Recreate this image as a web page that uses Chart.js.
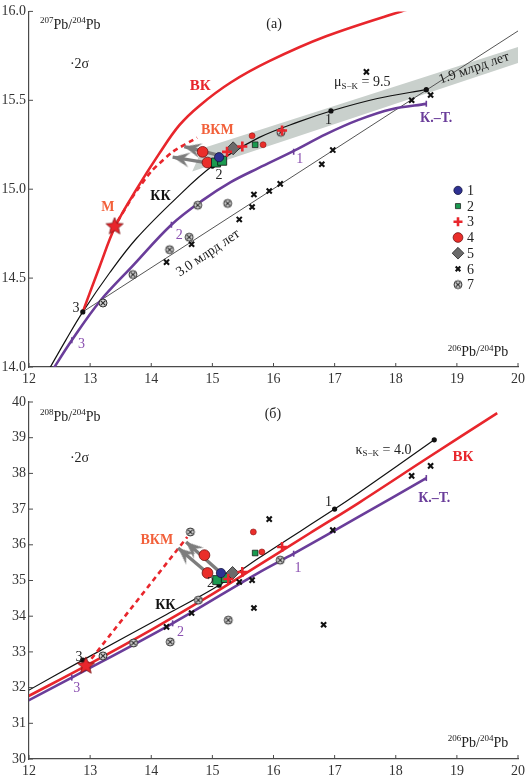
<!DOCTYPE html>
<html>
<head>
<meta charset="utf-8">
<script src="https://cdn.jsdelivr.net/npm/chart.js@4.4.0/dist/chart.umd.min.js"></script>
<style>
  html, body { margin: 0; padding: 0; background: #fff; }
  #wrap { position: relative; width: 529px; height: 781px; }
  .panel { position: absolute; left: 0; width: 529px; }
</style>
</head>
<body>
<div id="wrap">
  <div class="panel" style="top:0;height:390px"><canvas id="chartA"></canvas></div>
  <div class="panel" style="top:390px;height:391px"><canvas id="chartB"></canvas></div>
</div>
<script>
const FONT = '"Liberation Serif", "DejaVu Serif", serif';
const RED = '#e8262c', ORANGE = '#f2603a', PURPLE = '#6a3d9a', PURPLE_L = '#8a4fb0', GREY = '#7d7d7d';

const xTicks = [12, 13, 14, 15, 16, 17, 18, 19, 20];
const yTicksA = [14.0, 14.5, 15.0, 15.5, 16.0];
const yTicksB = [30, 31, 32, 33, 34, 35, 36, 37, 38, 39, 40];
const groupNames = ['1', '2', '3', '4', '5', '6', '7'];

// ---- panel (а): 207Pb/204Pb vs 206Pb/204Pb ----
const vkA = [[12.88, 14.31], [13.15, 14.56], [13.41, 14.79], [13.76, 15.0], [14.13, 15.2], [14.46, 15.36],
  [14.79, 15.47], [15.3, 15.6], [15.93, 15.72], [16.86, 15.86], [18.09, 16.0], [18.5, 16.04]];
const vkmA = [[13.45, 14.82], [13.7, 14.96], [14.0, 15.1], [14.35, 15.21], [14.75, 15.29]];
const kkA = [[12.3, 13.97], [12.6, 14.15], [12.88, 14.31], [13.32, 14.53], [13.75, 14.72], [14.41, 14.95],
  [15.0, 15.13], [15.76, 15.29], [16.42, 15.38], [16.94, 15.44], [17.7, 15.51], [18.5, 15.56]];
const ktA = [[12.38, 13.98], [12.7, 14.15], [13.16, 14.37], [13.7, 14.57], [14.33, 14.8], [14.85, 14.94],
  [15.3, 15.04], [15.76, 15.12], [16.3, 15.21], [16.86, 15.31], [17.39, 15.39], [17.93, 15.45], [18.5, 15.48]];
const iso30A = [[12.88, 14.31], [20.0, 15.89]];
const band19A = [[14.67, 15.1], [20.0, 15.71], [20.0, 15.8], [14.84, 15.23]];
const kkTicksA = [[12.88, 14.31], [15.0, 15.13], [16.94, 15.44], [18.5, 15.56]];
const ktTicksA = [[12.7, 14.15], [14.33, 14.8], [16.33, 15.21], [18.5, 15.48]];
const starA = [[13.4, 14.79]];
const g1A = [[15.11, 15.18]];
const g2A = [[15.06, 15.15], [15.16, 15.16]];
const g2smallA = [[15.7, 15.25]];
const g3A = [[15.24, 15.21], [15.49, 15.24], [16.14, 15.33]];
const g4A = [[14.84, 15.21], [14.92, 15.15]];
const g4smallA = [[15.65, 15.3], [15.83, 15.25]];
const g5A = [[15.34, 15.23]];
const g6A = [[14.25, 14.59], [14.66, 14.69], [15.44, 14.83], [15.65, 14.9], [15.68, 14.97], [15.93, 14.99],
  [16.11, 15.03], [16.79, 15.14], [16.97, 15.22], [17.52, 15.66], [18.26, 15.5], [18.57, 15.53]];
const g7A = [[13.21, 14.36], [13.7, 14.52], [14.3, 14.66], [14.62, 14.73], [14.76, 14.91], [15.25, 14.92], [16.12, 15.32]];
const arrowFromA = [[15.11, 15.19], [15.06, 15.14]];
const arrowToA = [[14.54, 15.24], [14.35, 15.18]];

// ---- panel (б): 208Pb/204Pb vs 206Pb/204Pb ----
const vkB = [[11.9, 31.68], [12.0, 31.77], [12.93, 32.61], [14.0, 33.62], [15.0, 34.62], [15.76, 35.43],
  [16.6, 36.33], [17.39, 37.17], [18.5, 38.41], [19.66, 39.69]];
const vkmB = [[12.93, 32.61], [14.59, 36.22]];
const kkB = [[11.9, 31.83], [12.0, 31.93], [12.88, 32.77], [14.25, 34.05], [15.11, 34.87], [15.76, 35.63],
  [17.0, 37.0], [17.39, 37.45], [18.63, 38.94]];
const ktB = [[11.9, 31.56], [12.0, 31.65], [12.7, 32.28], [14.35, 33.8], [15.76, 35.22], [16.33, 35.75],
  [17.39, 36.78], [18.5, 37.87]];
const kkTicksB = [[12.88, 32.77], [15.11, 34.87], [17.0, 37.0], [18.63, 38.94]];
const ktTicksB = [[12.7, 32.28], [14.35, 33.8], [16.33, 35.75], [18.5, 37.87]];
const starB = [[12.93, 32.61]];
const g1B = [[15.14, 35.21]];
const g2B = [[15.08, 35.01], [15.22, 35.07]];
const g2smallB = [[15.7, 35.77]];
const g3B = [[15.26, 35.04], [15.49, 35.24], [16.14, 35.94]];
const g4B = [[14.87, 35.71], [14.92, 35.21]];
const g4smallB = [[15.67, 36.36], [15.81, 35.8]];
const g5B = [[15.33, 35.21]];
const g6B = [[14.25, 33.7], [14.66, 34.09], [15.44, 34.96], [15.65, 35.01], [15.68, 34.23], [15.93, 36.72],
  [16.82, 33.76], [16.97, 36.41], [18.26, 37.93], [18.57, 38.21]];
const g7B = [[13.21, 32.89], [13.71, 33.25], [14.31, 33.28], [14.64, 36.36], [14.77, 34.45], [15.26, 33.89], [16.11, 35.57]];
const arrowFromB = [[15.14, 35.21], [14.92, 35.21]];
const arrowToB = [[14.57, 36.08], [14.44, 35.91]];

// text labels, placed in data units
const notesA = [
  { x: 14.80, y: 15.58, parts: [{ t: 'ВК' }], color: RED, bold: true, size: 15 },
  { x: 15.08, y: 15.33, parts: [{ t: 'ВКМ' }], color: ORANGE, bold: true },
  { x: 13.29, y: 14.90, parts: [{ t: 'М' }], color: ORANGE, bold: true },
  { x: 14.15, y: 14.96, parts: [{ t: 'КК' }], color: '#111', bold: true },
  { x: 18.66, y: 15.40, parts: [{ t: 'К.–Т.' }], color: PURPLE, bold: true },
  { x: 16.99, y: 15.60, align: 'left', parts: [{ t: 'μ' }, { t: 'S−K', sub: true }, { t: ' = 9.5' }] },
  { x: 19.28, y: 15.68, rot: -19, parts: [{ t: '1.9 млрд лет' }] },
  { x: 14.93, y: 14.64, rot: -34, parts: [{ t: '3.0 млрд лет' }] },
  { x: 16.90, y: 15.39, parts: [{ t: '1' }] },
  { x: 15.11, y: 15.08, parts: [{ t: '2' }] },
  { x: 12.77, y: 14.33, parts: [{ t: '3' }] },
  { x: 12.86, y: 14.13, parts: [{ t: '3' }], color: PURPLE_L },
  { x: 14.46, y: 14.74, parts: [{ t: '2' }], color: PURPLE_L },
  { x: 16.43, y: 15.17, parts: [{ t: '1' }], color: PURPLE_L },
  { x: 16.01, y: 15.93, parts: [{ t: '(а)' }] },
  { x: 12.18, y: 15.92, align: 'left', parts: [{ t: '207', sup: true }, { t: 'Pb/' }, { t: '204', sup: true }, { t: 'Pb' }] },
  { x: 12.67, y: 15.70, align: 'left', parts: [{ t: '·2σ' }] },
  { x: 19.84, y: 14.08, align: 'right', parts: [{ t: '206', sup: true }, { t: 'Pb/' }, { t: '204', sup: true }, { t: 'Pb' }] }
];
const notesB = [
  { x: 14.09, y: 36.13, parts: [{ t: 'ВКМ' }], color: ORANGE, bold: true },
  { x: 14.23, y: 34.31, parts: [{ t: 'КК' }], color: '#111', bold: true },
  { x: 19.10, y: 38.46, parts: [{ t: 'ВК' }], color: RED, bold: true, size: 15 },
  { x: 18.63, y: 37.31, parts: [{ t: 'К.–Т.' }], color: PURPLE, bold: true },
  { x: 17.34, y: 38.66, align: 'left', parts: [{ t: 'κ' }, { t: 'S−K', sub: true }, { t: ' = 4.0' }] },
  { x: 16.90, y: 37.20, parts: [{ t: '1' }] },
  { x: 16.40, y: 35.35, parts: [{ t: '1' }], color: PURPLE_L },
  { x: 14.48, y: 33.56, parts: [{ t: '2' }], color: PURPLE_L },
  { x: 12.78, y: 31.99, parts: [{ t: '3' }], color: PURPLE_L },
  { x: 12.82, y: 32.86, parts: [{ t: '3' }] },
  { x: 14.97, y: 34.93, parts: [{ t: '2' }] },
  { x: 15.99, y: 39.66, parts: [{ t: '(б)' }] },
  { x: 12.18, y: 39.58, align: 'left', parts: [{ t: '208', sup: true }, { t: 'Pb/' }, { t: '204', sup: true }, { t: 'Pb' }] },
  { x: 12.67, y: 38.43, align: 'left', parts: [{ t: '·2σ' }] },
  { x: 19.84, y: 30.45, align: 'right', parts: [{ t: '206', sup: true }, { t: 'Pb/' }, { t: '204', sup: true }, { t: 'Pb' }] }
];

const pts = arr => arr.map(([x, y]) => ({ x, y }));

// custom marker images
function makeStar(r) {
  const s = 2 * r + 4, c = s / 2, cv = document.createElement('canvas');
  cv.width = s; cv.height = s;
  const g = cv.getContext('2d');
  g.beginPath();
  for (let i = 0; i < 10; i++) {
    const rr = i % 2 ? r * 0.45 : r, a = -Math.PI / 2 + i * Math.PI / 5;
    g.lineTo(c + rr * Math.cos(a), c + rr * Math.sin(a));
  }
  g.closePath();
  g.fillStyle = RED; g.fill();
  g.strokeStyle = '#7a1414'; g.lineWidth = 0.8; g.stroke();
  return cv;
}
function makeCircCross(r) {
  const s = 2 * r + 4, c = s / 2, cv = document.createElement('canvas');
  cv.width = s; cv.height = s;
  const g = cv.getContext('2d');
  g.beginPath(); g.arc(c, c, r, 0, Math.PI * 2);
  g.fillStyle = '#d4d4d4'; g.fill();
  g.strokeStyle = '#333'; g.lineWidth = 1; g.stroke();
  const d = r * 0.6;
  g.beginPath();
  g.moveTo(c - d, c - d); g.lineTo(c + d, c + d);
  g.moveTo(c + d, c - d); g.lineTo(c - d, c + d);
  g.lineWidth = 1.2; g.stroke();
  return cv;
}
function makeArrowHead(len, wid) {
  const s = 2 * len + 4, c = s / 2, cv = document.createElement('canvas');
  cv.width = s; cv.height = s;
  const g = cv.getContext('2d');
  g.beginPath();
  g.moveTo(c, c);
  g.lineTo(c + wid / 2, c + len);
  g.lineTo(c, c + len * 0.62);
  g.lineTo(c - wid / 2, c + len);
  g.closePath();
  g.fillStyle = GREY; g.fill();
  return cv;
}
const starImg = makeStar(9);
const circCrossImg = makeCircCross(4);
const arrowImg = makeArrowHead(17, 15);

const st1 = { pointStyle: 'circle', radius: 4.6, bg: '#2e3192', border: '#15153f', bw: 0.8 };
const st2 = { pointStyle: 'rect', radius: 6.4, bg: '#1a9a50', border: '#111', bw: 0.8 };
const st2s = { pointStyle: 'rect', radius: 4, bg: '#1a9a50', border: '#111', bw: 0.7 };
const st3 = { pointStyle: 'cross', radius: 5, bg: RED, border: RED, bw: 2.6 };
const st4 = { pointStyle: 'circle', radius: 5.4, bg: '#ea2e2a', border: '#6e1111', bw: 0.8 };
const st4s = { pointStyle: 'circle', radius: 3, bg: '#ea2e2a', border: '#8a1a1a', bw: 0.6 };
const st5 = { pointStyle: 'rectRot', radius: 6.5, bg: '#6b6b6b', border: '#222', bw: 0.8 };
const st6 = { pointStyle: 'crossRot', radius: 3.6, bg: '#111', border: '#111', bw: 2.1 };
const st7 = { pointStyle: circCrossImg, radius: 4, bg: '#d4d4d4', border: '#333', bw: 1 };
const legendStyles = [st1, st2s, st3, st4, st5, st6, st7];

function markers(data, st, order) {
  return {
    data: pts(data), showLine: false, order,
    pointStyle: st.pointStyle, pointRadius: st.radius,
    pointBackgroundColor: st.bg, pointBorderColor: st.border, pointBorderWidth: st.bw
  };
}
function curve(data, color, width, order, extra) {
  return Object.assign({
    data: pts(data), showLine: true, order, borderColor: color, borderWidth: width,
    pointRadius: 0, tension: 0.35, fill: false
  }, extra || {});
}
function curveTicks(data, color, style) {
  return {
    data: pts(data), showLine: false, order: 3,
    pointStyle: style, pointRadius: style === 'line' ? 3 : 1.8, rotation: 90,
    pointBackgroundColor: color, pointBorderColor: color, pointBorderWidth: 1.6
  };
}
function arrows(from, to) {
  const shafts = from.map((f, i) => curve([f, to[i]], GREY, 3.4, 6, { tension: 0 }));
  const heads = {
    data: pts(to), showLine: false, order: 5,
    pointStyle: arrowImg,
    rotation: ctx => {
      if (ctx.dataIndex === undefined) return 0;
      const sx = ctx.chart.scales.x, sy = ctx.chart.scales.y;
      const f = from[ctx.dataIndex], t = to[ctx.dataIndex];
      const dx = sx.getPixelForValue(t[0]) - sx.getPixelForValue(f[0]);
      const dy = sy.getPixelForValue(t[1]) - sy.getPixelForValue(f[1]);
      return Math.atan2(dx, -dy) * 180 / Math.PI;
    }
  };
  return shafts.concat([heads]);
}

function drawRich(ctx, item, px, py) {
  const size = item.size || 14;
  const weight = item.bold ? 'bold ' : '';
  const fontFor = p => weight + ((p.sup || p.sub) ? Math.round(size * 0.66) : size) + 'px ' + FONT;
  let total = 0;
  item.parts.forEach(p => { ctx.font = fontFor(p); total += ctx.measureText(p.t).width; });
  ctx.save();
  ctx.translate(px, py);
  if (item.rot) ctx.rotate(item.rot * Math.PI / 180);
  let x = item.align === 'left' ? 0 : item.align === 'right' ? -total : -total / 2;
  ctx.fillStyle = item.color || '#222';
  ctx.textBaseline = 'middle';
  ctx.textAlign = 'left';
  item.parts.forEach(p => {
    ctx.font = fontFor(p);
    const dy = p.sup ? -size * 0.33 : p.sub ? size * 0.3 : 0;
    ctx.fillText(p.t, x, dy);
    x += ctx.measureText(p.t).width;
  });
  ctx.restore();
}

function notesPlugin(items) {
  return {
    id: 'notes',
    afterDatasetsDraw(chart) {
      const { ctx, scales: { x, y } } = chart;
      items.forEach(it => drawRich(ctx, it, x.getPixelForValue(it.x), y.getPixelForValue(it.y)));
    }
  };
}

const inwardTicks = {
  id: 'inwardTicks',
  afterDraw(chart) {
    const { ctx, chartArea: a, scales: { x, y } } = chart;
    ctx.save();
    ctx.strokeStyle = '#4a4a4a';
    ctx.lineWidth = 1;
    ctx.beginPath();
    x.ticks.forEach((t, i) => { const p = x.getPixelForTick(i); ctx.moveTo(p, a.bottom); ctx.lineTo(p, a.bottom - 4); });
    y.ticks.forEach((t, i) => { const p = y.getPixelForTick(i); ctx.moveTo(a.left, p); ctx.lineTo(a.left + 4, p); });
    ctx.stroke();
    ctx.restore();
  }
};

function drawMarker(ctx, st, x, y) {
  if (typeof st.pointStyle === 'object') {
    ctx.drawImage(st.pointStyle, x - st.pointStyle.width / 2, y - st.pointStyle.height / 2);
    return;
  }
  ctx.fillStyle = st.bg;
  ctx.strokeStyle = st.border;
  ctx.lineWidth = st.bw;
  Chart.helpers.drawPoint(ctx, { pointStyle: st.pointStyle, radius: st.radius * 0.9, rotation: 0, borderWidth: st.bw }, x, y);
}

const groupLegend = {
  id: 'groupLegend',
  afterDraw(chart) {
    const { ctx, chartArea: a } = chart;
    ctx.save();
    legendStyles.forEach((st, i) => {
      const mx = a.left + 429, my = a.top + 179 + i * 15.7;
      drawMarker(ctx, st, mx, my);
      ctx.fillStyle = '#222';
      ctx.font = '14px ' + FONT;
      ctx.textBaseline = 'middle';
      ctx.textAlign = 'left';
      ctx.fillText(groupNames[i], mx + 9, my + 1);
    });
    ctx.restore();
  }
};

function scales(yMin, yMax, yTicks, yFmt, xHeight, xPad) {
  const tickFont = { family: FONT, size: 14 };
  return {
    x: {
      type: 'linear', min: 12, max: 20,
      afterBuildTicks: s => { s.ticks = xTicks.map(v => ({ value: v })); },
      afterFit: s => { s.height = xHeight; },
      grid: { display: false, drawTicks: false },
      border: { display: true, color: '#4a4a4a', width: 1.2 },
      ticks: { font: tickFont, color: '#333', padding: xPad, maxRotation: 0, autoSkip: false }
    },
    y: {
      type: 'linear', min: yMin, max: yMax,
      afterBuildTicks: s => { s.ticks = yTicks.map(v => ({ value: v })); },
      afterFit: s => { s.width = 29; },
      grid: { display: false, drawTicks: false },
      border: { display: true, color: '#4a4a4a', width: 1.2 },
      ticks: { font: tickFont, color: '#333', padding: 3, autoSkip: false, callback: yFmt }
    }
  };
}

function baseOptions(sc, padTop) {
  return {
    responsive: true, maintainAspectRatio: false, animation: false, events: [],
    layout: { padding: { top: padTop, right: 9, left: 0, bottom: 0 } },
    plugins: { legend: { display: false }, tooltip: { enabled: false } },
    scales: sc
  };
}

new Chart(document.getElementById('chartA'), {
  type: 'scatter',
  data: {
    datasets: [
      markers(starA, { pointStyle: starImg }, 0),
      markers(g1A, st1, 1),
      markers(g3A, st3, 1),
      markers(g5A, st5, 1.5),
      markers(g2A, st2, 1.6),
      markers(g4A, st4, 1.7),
      markers(g4smallA, st4s, 1.8),
      markers(g2smallA, st2s, 1.8),
      markers(g6A, st6, 2),
      markers(g7A, st7, 2),
      curveTicks(kkTicksA, '#111', 'circle'),
      curveTicks(ktTicksA, PURPLE, 'line'),
      ...arrows(arrowFromA, arrowToA),
      curve(vkA, RED, 2.6, 7),
      curve(vkmA, RED, 2.6, 7, { borderDash: [5, 4], tension: 0.2 }),
      curve(ktA, PURPLE, 2.6, 7),
      curve(kkA, '#111', 1.2, 7),
      curve(iso30A, '#555', 1, 8, { tension: 0 }),
      curve(band19A, 'rgba(0,0,0,0)', 0, 9, { tension: 0, fill: 'shape', backgroundColor: '#c9d0cc' })
    ]
  },
  options: baseOptions(scales(14, 16, yTicksA, v => v.toFixed(1), 23, 4), 10),
  plugins: [inwardTicks, notesPlugin(notesA), groupLegend]
});

new Chart(document.getElementById('chartB'), {
  type: 'scatter',
  data: {
    datasets: [
      markers(starB, { pointStyle: starImg }, 0),
      markers(g1B, st1, 1),
      markers(g3B, st3, 1),
      markers(g5B, st5, 1.5),
      markers(g2B, st2, 1.6),
      markers(g4B, st4, 1.7),
      markers(g4smallB, st4s, 1.8),
      markers(g2smallB, st2s, 1.8),
      markers(g6B, st6, 2),
      markers(g7B, st7, 2),
      curveTicks(kkTicksB, '#111', 'circle'),
      curveTicks(ktTicksB, PURPLE, 'line'),
      ...arrows(arrowFromB, arrowToB),
      curve(vkB, RED, 2.6, 7),
      curve(vkmB, RED, 2.6, 7, { borderDash: [5, 4], tension: 0 }),
      curve(ktB, PURPLE, 2.6, 7),
      curve(kkB, '#111', 1.2, 7)
    ]
  },
  options: baseOptions(scales(30, 40, yTicksB, v => String(v), 22, 4), 12),
  plugins: [inwardTicks, notesPlugin(notesB)]
});
</script>
</body>
</html>
